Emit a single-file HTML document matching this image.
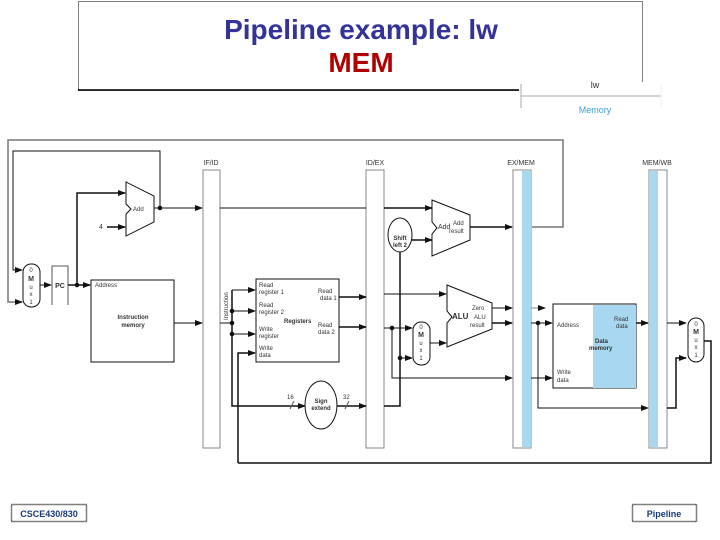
<!DOCTYPE html>
<html><head><meta charset="utf-8"><style>
html,body{margin:0;padding:0;background:#fff;width:720px;height:540px;overflow:hidden}
svg{display:block}
text{font-family:"Liberation Sans",Arial,sans-serif}
</style></head><body>
<svg width="720" height="540" viewBox="0 0 720 540" xmlns="http://www.w3.org/2000/svg">
<defs>
<marker id="a" markerWidth="8" markerHeight="6" refX="7" refY="3" orient="auto" markerUnits="userSpaceOnUse"><path d="M0,0 L8,3 L0,6z" fill="#111"/></marker>
</defs>
<!-- title -->
<rect x="78.5" y="1.5" width="564" height="89" fill="#fff" stroke="#000" stroke-dasharray="1,1"/>
<line x1="78" y1="90" x2="642" y2="90" stroke="#000" stroke-width="1.5"/>
<text x="361" y="39" font-size="28" font-weight="bold" fill="#333399" text-anchor="middle">Pipeline example: lw</text>
<text x="361" y="72" font-size="28" font-weight="bold" fill="#b00000" text-anchor="middle">MEM</text>
<rect x="519" y="82" width="144" height="30" fill="#fff"/>
<line x1="521" y1="84" x2="521" y2="108" stroke="#aaa"/>
<line x1="521" y1="96" x2="661" y2="96" stroke="#aaa"/>
<line x1="661" y1="84" x2="661" y2="108" stroke="#eee"/>
<text x="595" y="88" font-size="9" fill="#333" text-anchor="middle">lw</text>
<text x="595" y="113" font-size="9" fill="#3aa0d0" text-anchor="middle">Memory</text>

<g fill="none" stroke="#111" stroke-width="1">
<rect x="203" y="170" width="17" height="278" fill="#fff" stroke="#888"/>
<rect x="366" y="170" width="18" height="278" fill="#fff" stroke="#888"/>
<rect x="513" y="170" width="18" height="278" fill="#fff" stroke="#888"/>
<rect x="522" y="171" width="9" height="276" fill="#a8d8f0" stroke="none"/>
<rect x="649" y="170" width="18" height="278" fill="#fff" stroke="#888"/>
<rect x="649" y="171" width="9" height="276" fill="#a8d8f0" stroke="none"/>

<path d="M532,227 H563 V140 H8 V302 H22" stroke="#777" stroke-width="1.5"/>
<path d="M15,302 H22" marker-end="url(#a)"/>
<path d="M160,208 V151 H13 V270 H22" marker-end="url(#a)"/>
<rect x="23" y="264" width="17" height="43" rx="8" fill="#fff"/>
<path d="M40,285 H51" marker-end="url(#a)"/>
<path d="M52,305 V266 H68 V305" stroke="#555"/>
<path d="M68,285 H90" marker-end="url(#a)" stroke-width="1.5"/>
<path d="M77,285 V193 H125" marker-end="url(#a)" stroke-width="1.5"/>
<circle cx="77" cy="285" r="1.8" fill="#111"/>
<path d="M126,182 L154,196 V222 L126,236 V214 L131,209 L126,204 Z" fill="#fff"/>
<path d="M154,208 H202" marker-end="url(#a)"/>
<circle cx="160" cy="208" r="1.8" fill="#111"/>
<path d="M107,227 H125" marker-end="url(#a)" stroke-width="1.5"/>
<rect x="91" y="280" width="83" height="82" fill="#fff"/>
<path d="M174,323 H202" marker-end="url(#a)"/>
<path d="M220,208 H366" />
<path d="M232,290 V406 H305" stroke-width="1.5" marker-end="url(#a)"/>
<path d="M232,290 H255" marker-end="url(#a)"/>
<path d="M232,311 H255" marker-end="url(#a)"/>
<path d="M232,334 H255" marker-end="url(#a)"/>
<path d="M220,323 H232"/>
<circle cx="232" cy="311" r="1.8" fill="#111"/><circle cx="232" cy="323" r="1.8" fill="#111"/><circle cx="232" cy="334" r="1.8" fill="#111"/>
<path d="M238,463 V353 H255" stroke-width="1.5" marker-end="url(#a)"/>
<path d="M238,463 H711 V341 H704" stroke-width="1.5"/>
<rect x="256" y="279" width="83" height="83" fill="#fff"/>
<path d="M339,297 H366" stroke-width="1.5" marker-end="url(#a)"/>
<path d="M339,327 H366" stroke-width="1.5" marker-end="url(#a)"/>
<ellipse cx="321" cy="405" rx="16" ry="24" fill="#fff"/>
<path d="M337,406 H366" stroke-width="1.5" marker-end="url(#a)"/>
<path d="M290,409 L294,401 M345,409 L349,401" stroke="#555"/>
<path d="M384,208 H432" stroke-width="1.5" marker-end="url(#a)"/>
<ellipse cx="400" cy="235" rx="12" ry="17" fill="#fff"/>
<path d="M412,240 H432" stroke-width="1.5" marker-end="url(#a)"/>
<path d="M384,406 H400 V252" stroke-width="1.5"/>
<path d="M432,200 L470,215 V240 L432,256 V234 L437,228 L432,222 Z" fill="#fff"/>
<path d="M470,227 H512" stroke-width="1.5" marker-end="url(#a)"/>
<path d="M384,294 H446" marker-end="url(#a)"/>
<path d="M384,328 H412" marker-end="url(#a)"/>
<path d="M392,328 V378 H512" marker-end="url(#a)"/>
<circle cx="392" cy="328" r="1.8" fill="#111"/>
<path d="M400,358 H412" marker-end="url(#a)"/>
<circle cx="400" cy="358" r="1.8" fill="#111"/>
<rect x="413" y="322" width="17" height="43" rx="8" fill="#fff"/>
<path d="M430,343 H446" marker-end="url(#a)"/>
<path d="M447,285 L492,303 V329 L447,347 V323 L452,317 L447,311 Z" fill="#fff"/>
<path d="M492,308 H512" marker-end="url(#a)"/>
<path d="M492,323 H512" stroke-width="1.5" marker-end="url(#a)"/>
<path d="M531,308 H545" stroke="#888" marker-end="url(#a)"/>
<path d="M531,323 H552" marker-end="url(#a)"/>
<path d="M538,323 V408 H648" marker-end="url(#a)"/>
<circle cx="538" cy="323" r="1.8" fill="#111"/>
<path d="M531,378 H552" marker-end="url(#a)"/>
<rect x="553" y="304" width="83" height="84" fill="#fff"/>
<rect x="593" y="305" width="43" height="83" fill="#a8d8f0" stroke="none"/>
<path d="M636,323 H648" stroke-width="1.5" marker-end="url(#a)"/>
<path d="M667,323 H686" marker-end="url(#a)"/>
<path d="M667,408 H676 V358 H686" stroke-width="1.5" marker-end="url(#a)"/>
<rect x="688" y="318" width="16" height="44" rx="8" fill="#fff"/>
</g>

<g font-size="6" fill="#333">
<text x="211" y="165" font-size="7" text-anchor="middle">IF/ID</text>
<text x="375" y="165" font-size="7" text-anchor="middle">ID/EX</text>
<text x="521" y="165" font-size="7" text-anchor="middle">EX/MEM</text>
<text x="657" y="165" font-size="7" text-anchor="middle">MEM/WB</text>
<text x="31" y="272" text-anchor="middle">0</text>
<text x="31" y="281" font-weight="bold" font-size="7" text-anchor="middle">M</text>
<text x="31" y="289" text-anchor="middle">u</text>
<text x="31" y="296" text-anchor="middle">x</text>
<text x="31" y="304" text-anchor="middle">1</text>
<text x="60" y="288" font-size="7" font-weight="bold" text-anchor="middle">PC</text>
<text x="133" y="211" font-size="6">Add</text>
<text x="99" y="229" font-size="7">4</text>
<text x="95" y="287">Address</text>
<text x="133" y="319" text-anchor="middle" font-weight="bold">Instruction</text>
<text x="133" y="327" text-anchor="middle" font-weight="bold">memory</text>
<text transform="translate(228,320) rotate(-90)" font-size="6">Instruction</text>
<text x="259" y="287">Read</text><text x="259" y="294">register 1</text>
<text x="259" y="307">Read</text><text x="259" y="314">register 2</text>
<text x="259" y="331">Write</text><text x="259" y="338">register</text>
<text x="259" y="350">Write</text><text x="259" y="357">data</text>
<text x="284" y="323" font-weight="bold">Registers</text>
<text x="318" y="293">Read</text><text x="320" y="300">data 1</text>
<text x="318" y="327">Read</text><text x="318" y="334">data 2</text>
<text x="321" y="403" font-weight="bold" text-anchor="middle">Sign</text>
<text x="321" y="410" font-weight="bold" text-anchor="middle">extend</text>
<text x="287" y="399">16</text><text x="343" y="399">32</text>
<text x="400" y="240" font-weight="bold" text-anchor="middle">Shift</text>
<text x="400" y="247" font-weight="bold" text-anchor="middle">left 2</text>
<text x="438" y="229" font-size="7">Add</text>
<text x="453" y="225">Add</text><text x="449" y="233">result</text>
<text x="452" y="319" font-size="8" font-weight="bold">ALU</text>
<text x="472" y="310">Zero</text><text x="474" y="319">ALU</text><text x="470" y="327">result</text>
<text x="421" y="329" text-anchor="middle">0</text>
<text x="421" y="337" font-weight="bold" font-size="7" text-anchor="middle">M</text>
<text x="421" y="345" text-anchor="middle">u</text>
<text x="421" y="352" text-anchor="middle">x</text>
<text x="421" y="360" text-anchor="middle">1</text>
<text x="557" y="327">Address</text>
<text x="557" y="374">Write</text><text x="557" y="382">data</text>
<text x="595" y="343" font-weight="bold">Data</text><text x="589" y="350" font-weight="bold">memory</text>
<text x="614" y="321">Read</text><text x="616" y="328">data</text>
<text x="696" y="326" text-anchor="middle">0</text>
<text x="696" y="334" font-weight="bold" font-size="7" text-anchor="middle">M</text>
<text x="696" y="342" text-anchor="middle">u</text>
<text x="696" y="349" text-anchor="middle">x</text>
<text x="696" y="357" text-anchor="middle">1</text>
</g>

<rect x="11.5" y="504.5" width="75" height="17" fill="#fff" stroke="#000" stroke-width="1.5" stroke-dasharray="1,1"/>
<text x="49" y="517" font-family="Liberation Serif,serif" font-size="9" font-weight="bold" fill="#1a3a7a" text-anchor="middle">CSCE430/830</text>
<rect x="632.5" y="504.5" width="64" height="17" fill="#fff" stroke="#000" stroke-width="1.5" stroke-dasharray="1,1"/>
<text x="664" y="517" font-family="Liberation Serif,serif" font-size="9" font-weight="bold" fill="#1a3a7a" text-anchor="middle">Pipeline</text>
</svg>
</body></html>
